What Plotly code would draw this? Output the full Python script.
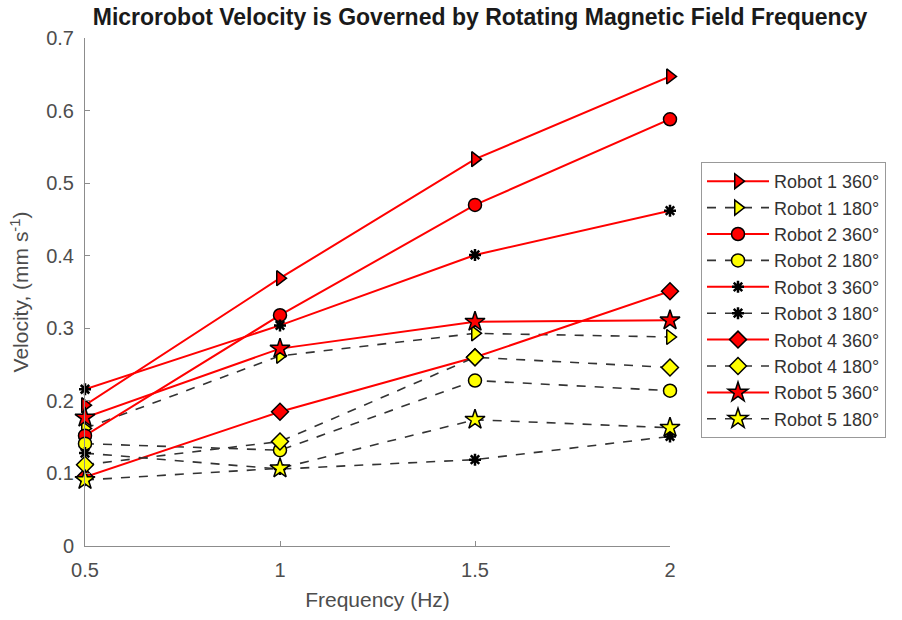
import plotly.graph_objects as go

freq = [0.5, 1, 1.5, 2]
names = ["Robot 1 360°", "Robot 1 180°", "Robot 2 360°", "Robot 2 180°", "Robot 3 360°",
         "Robot 3 180°", "Robot 4 360°", "Robot 4 180°", "Robot 5 360°", "Robot 5 180°"]
r1_360 = [0.194, 0.369, 0.533, 0.647]
r1_180 = [0.162, 0.262, 0.293, 0.288]
r2_360 = [0.152, 0.318, 0.470, 0.588]
r2_180 = [0.141, 0.132, 0.228, 0.214]
r3_360 = [0.216, 0.304, 0.401, 0.462]
r3_180 = [0.128, 0.106, 0.119, 0.151]
r4_360 = [0.095, 0.185, 0.260, 0.351]
r4_180 = [0.112, 0.144, 0.260, 0.246]
r5_360 = [0.177, 0.272, 0.309, 0.311]
r5_180 = [0.091, 0.107, 0.174, 0.163]
series = [r1_360, r1_180, r2_360, r2_180, r3_360, r3_180, r4_360, r4_180, r5_360, r5_180]
symbols = ["triangle-right", "triangle-right", "circle", "circle", "asterisk-open",
           "asterisk-open", "diamond", "diamond", "star", "star"]

fig = go.Figure()
for i, (nm, ys, sym) in enumerate(zip(names, series, symbols)):
    solid = i % 2 == 0
    fill = "#ff0000" if solid else "#ffff00"
    if sym == "asterisk-open":
        marker = dict(symbol=sym, size=10, line=dict(color="black", width=2.5), color="black")
    else:
        sz = 15 if sym == "star" else 13
        marker = dict(symbol=sym, size=sz, color=fill, line=dict(color="black", width=1.5))
    fig.add_trace(go.Scatter(
        x=freq, y=ys, name=nm, mode="lines+markers",
        line=dict(color="#ff0000" if solid else "#333333", width=2 if solid else 1.6,
                  dash="solid" if solid else "dash"),
        marker=marker, cliponaxis=False))

fam = "Liberation Sans, Arial, sans-serif"
tickfont = dict(family=fam, size=20, color="#4d4d4d")
titlefont = dict(family=fam, size=21, color="#4d4d4d")
fig.update_layout(
    width=902, height=620,
    margin=dict(l=85, r=232, t=38, b=72),
    plot_bgcolor="white", paper_bgcolor="white",
    font=dict(family=fam, color="#4d4d4d"),
    title=dict(text="<b>Microrobot Velocity is Governed by Rotating Magnetic Field Frequency</b>",
               x=480 / 902, xanchor="center", y=1 - 17 / 620, yanchor="middle",
               font=dict(size=23, color="#1a1a1a", family=fam)),
    xaxis=dict(range=[0.5, 2], tickvals=[0.5, 1, 1.5, 2], ticktext=["0.5", "1", "1.5", "2"],
               showgrid=False, zeroline=False, showline=True, linecolor="#8c8c8c", linewidth=1,
               ticks="inside", ticklen=5, tickcolor="#8c8c8c", tickfont=tickfont,
               ticklabelstandoff=6,
               title=dict(text="Frequency (Hz)", font=titlefont, standoff=12)),
    yaxis=dict(range=[0, 0.7], dtick=0.1, tickformat=".1~f",
               showgrid=False, zeroline=False, showline=True, linecolor="#8c8c8c", linewidth=1,
               ticks="inside", ticklen=5, tickcolor="#8c8c8c", tickfont=tickfont,
               ticklabelstandoff=6,
               title=dict(text="Velocity, (mm s<sup>-1</sup>)", font=titlefont, standoff=11)),
    legend=dict(xref="container", yref="container", x=701 / 902, y=1 - 162 / 620,
                xanchor="left", yanchor="top", bordercolor="#999999", borderwidth=1,
                bgcolor="white", font=dict(size=18, color="#333333", family=fam),
                tracegroupgap=0, itemwidth=62),
    showlegend=True,
)
fig.write_html("out.html")
